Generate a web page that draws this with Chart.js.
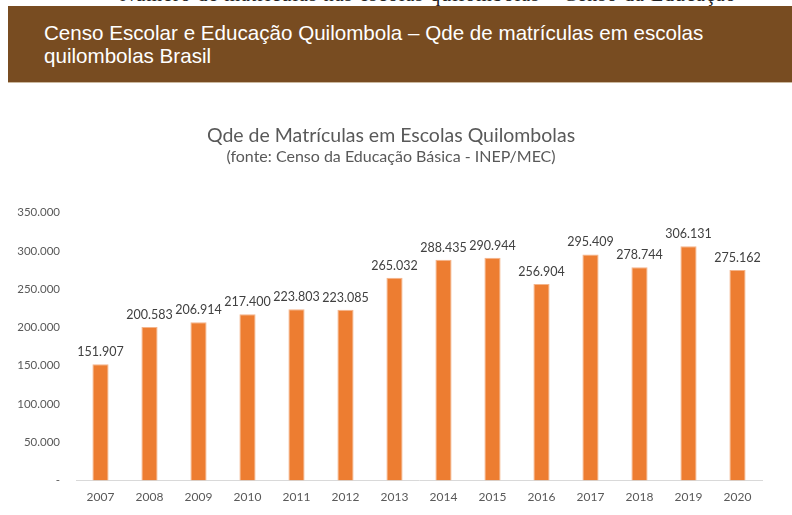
<!DOCTYPE html>
<html>
<head>
<meta charset="utf-8">
<script src="https://cdn.jsdelivr.net/npm/chart.js@4.4.1/dist/chart.umd.min.js"></script>
<style>
  html, body { margin:0; padding:0; background:#fff; }
  body { width:792px; height:515px; position:relative; overflow:hidden; }
  #topstrip { position:absolute; left:120px; top:-17px; font-family:"Liberation Serif", serif; font-size:20px; color:#222; white-space:nowrap; letter-spacing:1px; }
  #banner { position:absolute; left:8px; top:6px; width:784px; height:76px; background:#784c21; border-bottom:1px solid #cbb89e; }
  #banner div { position:absolute; left:36px; top:15px; font-family:"Liberation Sans", Arial, sans-serif; font-size:20.6px; line-height:23px; color:#fff; }
  #wrap { position:absolute; left:0; top:100px; width:792px; height:415px; }
</style>
</head>
<body>
<div id="topstrip">Número de matrículas nas escolas quilombolas – Censo da Educação</div>
<div id="banner"><div>Censo Escolar e Educação Quilombola – Qde de matrículas em escolas<br>quilombolas Brasil</div></div>
<div id="wrap"><canvas id="c" width="792" height="415"></canvas></div>
<script>
const categories = ["2007","2008","2009","2010","2011","2012","2013","2014","2015","2016","2017","2018","2019","2020"];
const matriculas = [151907, 200583, 206914, 217400, 223803, 223085, 265032, 288435, 290944, 256904, 295409, 278744, 306131, 275162];
const yTicks = [0, 50000, 100000, 150000, 200000, 250000, 300000, 350000];
const chartTitle = "Qde de Matrículas em Escolas Quilombolas";
const chartSubtitle = "(fonte: Censo da Educação Básica - INEP/MEC)";

function fmt(v) {
  if (v === 0) return "-";
  return String(v).replace(/\B(?=(\d{3})+(?!\d))/g, ".");
}

const FONT = "Lato, 'Open Sans', sans-serif";

const valueLabels = {
  id: 'valueLabels',
  afterDatasetsDraw(chart) {
    const ctx = chart.ctx;
    const meta = chart.getDatasetMeta(0);
    ctx.save();
    ctx.font = "12.5px " + FONT;
    ctx.fillStyle = "#404040";
    ctx.textAlign = "center";
    ctx.textBaseline = "alphabetic";
    meta.data.forEach((bar, i) => {
      ctx.fillText(fmt(chart.data.datasets[0].data[i]), bar.x, bar.y - 8);
    });
    ctx.restore();
  }
};

new Chart(document.getElementById('c'), {
  type: 'bar',
  data: {
    labels: categories,
    datasets: [{
      data: matriculas,
      backgroundColor: '#ED7D31',
      borderColor: '#F4B48A',
      borderWidth: 1,
      categoryPercentage: 1,
      barPercentage: 0.33
    }]
  },
  options: {
    responsive: false,
    animation: false,
    layout: { padding: { left: 0, right: 10, top: 0, bottom: 2 } },
    plugins: {
      legend: { display: false },
      tooltip: { enabled: false },
      title: {
        display: true,
        text: chartTitle,
        color: '#595959',
        font: { family: FONT, size: 19.5, weight: 'normal' },
        padding: { top: 24, bottom: 0 }
      },
      subtitle: {
        display: true,
        text: chartSubtitle,
        color: '#595959',
        font: { family: FONT, size: 16, weight: 'normal' },
        padding: { top: 0, bottom: 46 }
      }
    },
    scales: {
      x: {
        grid: { display: false, drawTicks: false },
        border: { display: true, color: '#D9D9D9', width: 1 },
        ticks: { color: '#595959', font: { family: FONT, size: 12 }, padding: 9 }
      },
      y: {
        min: 0,
        max: 350000,
        afterFit(scale) { scale.width = 76; },
        afterBuildTicks(scale) { scale.ticks = yTicks.map(v => ({ value: v })); },
        grid: { display: false, drawTicks: false },
        border: { display: false },
        ticks: { color: '#595959', font: { family: FONT, size: 11.5 }, padding: 16, callback: (v) => fmt(v) }
      },
      yRight: {
        position: 'right',
        min: 0,
        max: 350000,
        afterFit(scale) { scale.width = 20; },
        grid: { display: false, drawTicks: false },
        border: { display: false },
        ticks: { display: false }
      }
    }
  },
  plugins: [valueLabels]
});
</script>
</body>
</html>
